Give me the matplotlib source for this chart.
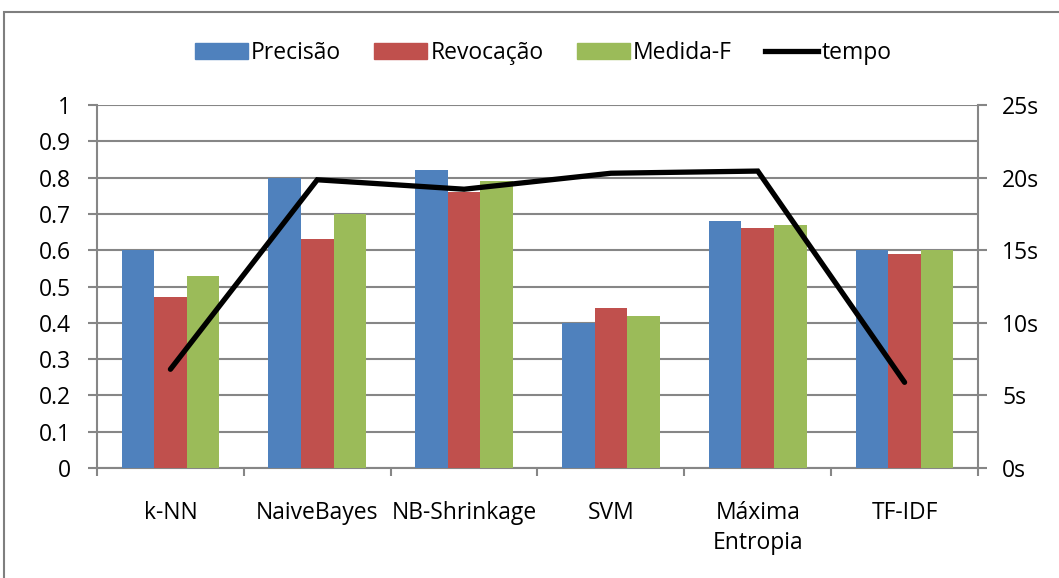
import numpy as np
import matplotlib
matplotlib.use('Agg')
import matplotlib.pyplot as plt
from matplotlib.patches import Rectangle, Patch
from matplotlib.lines import Line2D

plt.rcParams['font.family'] = ['Open Sans', 'DejaVu Sans']

# dados
categorias = ['k-NN', 'NaiveBayes', 'NB-Shrinkage', 'SVM', 'Máxima\nEntropia', 'TF-IDF']
precisao = [0.60, 0.80, 0.82, 0.40, 0.68, 0.60]
revocacao = [0.47, 0.63, 0.76, 0.44, 0.66, 0.59]
medida_f = [0.53, 0.70, 0.79, 0.42, 0.67, 0.60]
tempo = [6.8, 19.85, 19.2, 20.3, 20.45, 5.9]

y_ticks = [0, 0.1, 0.2, 0.3, 0.4, 0.5, 0.6, 0.7, 0.8, 0.9, 1]
y_labels = ['0', '0.1', '0.2', '0.3', '0.4', '0.5', '0.6', '0.7', '0.8', '0.9', '1']
t_ticks = [0, 5, 10, 15, 20, 25]
t_labels = ['0s', '5s', '10s', '15s', '20s', '25s']

azul = '#4F81BD'
vermelho = '#C0504D'
verde = '#9BBB59'
cinza = '#868686'
fs = 16.5

fig = plt.figure(figsize=(10.59, 5.78), dpi=100)
ax = fig.add_axes([97/1059, 1-468/578, (978-97)/1059, (468-105)/578])

x = np.arange(len(categorias))
w = 0.222
ax.bar(x - w, precisao, w, color=azul, zorder=3)
ax.bar(x, revocacao, w, color=vermelho, zorder=3)
ax.bar(x + w, medida_f, w, color=verde, zorder=3)

ax.set_xlim(-0.5, len(categorias) - 0.5)
ax.set_ylim(0, 1)
ax.set_yticks(y_ticks)
ax.set_yticklabels(y_labels, fontsize=fs)
ax.yaxis.grid(True, color=cinza, linewidth=1.5, zorder=0)
ax.set_axisbelow(True)

ax.set_xticks(x)
ax.set_xticklabels(categorias, fontsize=fs, linespacing=1.3)
ax.set_xticks(np.arange(len(categorias) + 1) - 0.5, minor=True)
ax.tick_params(axis='x', which='major', length=0, pad=24)
ax.tick_params(axis='x', which='minor', length=6, color=cinza, width=1.5)
ax.tick_params(axis='y', length=6.5, color=cinza, width=1.5, pad=12)

for s in ['top', 'right']:
    ax.spines[s].set_visible(False)
for s in ['left', 'bottom']:
    ax.spines[s].set_color(cinza)
    ax.spines[s].set_linewidth(1.5)

ax2 = ax.twinx()
ax2.plot(x, tempo, color='black', linewidth=3.8, solid_capstyle='round',
         solid_joinstyle='miter', zorder=5)
ax2.set_ylim(0, 25)
ax2.set_yticks(t_ticks)
ax2.set_yticklabels(t_labels, fontsize=fs)
ax2.tick_params(axis='y', length=6.5, color=cinza, width=1.5, pad=11)
for s in ['top', 'left', 'bottom']:
    ax2.spines[s].set_visible(False)
ax2.spines['right'].set_color(cinza)
ax2.spines['right'].set_linewidth(1.5)

handles = [Patch(color=azul), Patch(color=vermelho), Patch(color=verde),
           Line2D([0], [0], color='black', linewidth=3.8)]
fig.legend(handles, ['Precisão', 'Revocação', 'Medida-F', 'tempo'],
           loc='center', bbox_to_anchor=(543/1059, 1-53/578), ncol=4, frameon=False,
           fontsize=fs, handlelength=2.3, handletextpad=0.15, columnspacing=1.45)

fig.patches.append(Rectangle((4/1059, -0.05), 1.1, 1-12/578+0.05, transform=fig.transFigure,
                             fill=False, edgecolor='#7f7f7f', linewidth=1.5))

fig.savefig('out.png', dpi=100)
